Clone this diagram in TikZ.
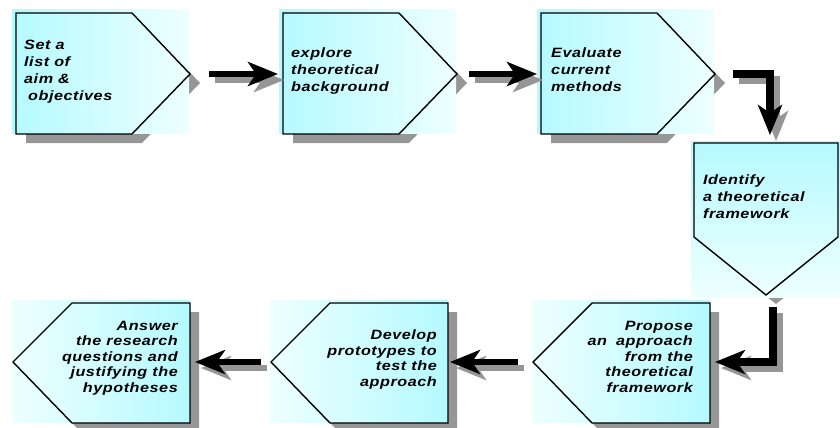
\documentclass[tikz,border=0pt]{standalone}
\usepackage{fontspec}
\usepackage{xcolor}
\usepackage{tikz}
\usetikzlibrary{arrows.meta}
\newfontfamily\boxfont{Liberation Sans}[FakeStretch=1.2, LetterSpace=4]
\definecolor{boxcyan}{RGB}{180,250,255}
\definecolor{boxwhite}{RGB}{238,255,255}
\definecolor{shadowgray}{RGB}{150,150,150}
\tikzset{
  boxline/.style={draw=black, line width=1.4pt},
  flowarrow/.style={line width=6pt, -{Stealth[length=30pt, width=24pt, inset=8pt]}},
  arrowshadow/.style={flowarrow, draw=shadowgray, transform canvas={xshift=6pt, yshift=-6pt}},
  boxtext/.style={font=\boxfont\bfseries\itshape\fontsize{13.5}{17}\selectfont, inner sep=0pt},
  lowtext/.style={boxtext, font=\boxfont\bfseries\itshape\fontsize{13.5}{15.5}\selectfont, align=right, anchor=north east}
}
\begin{document}
\begin{tikzpicture}[x=1pt, y=-1pt]
\useasboundingbox (0,0) rectangle (840,428);
% top row
\foreach \x/\n in {16/one, 283/two, 541/three}{
  \fill[shadowgray] (\x+10,22) -- (\x+126,22) -- (\x+184,83) -- (\x+126,143) -- (\x+10,143) -- cycle;
  \shade[left color=boxcyan, right color=boxwhite] (\x-4,10) rectangle (\x+173,133);
  \draw[boxline] (\x,13) -- (\x+116,13) -- (\x+174,74) -- (\x+116,134) -- (\x,134) -- cycle;
  \coordinate (\n-in) at (\x,74);
  \coordinate (\n-out) at (\x+174,74);
}
% turning box
\fill[shadowgray] (704,152) -- (848,152) -- (848,246) -- (776,304) -- (704,246) -- cycle;
\shade[top color=boxcyan, bottom color=boxwhite] (691,141) rectangle (840,297);
\draw[boxline] (694,143) -- (838,143) -- (838,237) -- (766,295) -- (694,237) -- cycle;
\coordinate (four-in) at (770,143);
\coordinate (four-out) at (773,295);
% bottom row
\foreach \x/\n in {190/seven, 448/six, 710/five}{
  \fill[shadowgray] (\x+9,312) -- (\x+9,432) -- (\x-109,432) -- (\x-168,372) -- (\x-109,312) -- cycle;
  \shade[left color=boxwhite, right color=boxcyan] (\x-178,300) rectangle (\x,422);
  \draw[boxline] (\x,303) -- (\x,423) -- (\x-118,423) -- (\x-177,362) -- (\x-118,303) -- cycle;
  \coordinate (\n-in) at (\x,362);
  \coordinate (\n-out) at (\x-177,362);
}

\node[boxtext, align=left, anchor=north west] (aims) at (24,40) {Set a\\list of\\aim \&\\\hspace*{4pt}objectives};
\node[boxtext, align=left, anchor=north west] (explore) at (291,48) {explore\\theoretical\\background};
\node[boxtext, align=left, anchor=north west] (evaluate) at (551,48) {Evaluate\\current\\methods};
\node[boxtext, align=left, anchor=north west] (identify) at (703,175) {Identify\\a theoretical\\framework};
\node[lowtext] (propose) at (693,321) {Propose\\an\hspace*{4pt} approach\\from the\\theoretical\\framework};
\node[lowtext] (develop) at (437,330) {Develop\\prototypes to\\test the\\approach};
\node[lowtext] (answer) at (178,321) {Answer\\the research\\questions and\\justifying the\\hypotheses};

% arrows
\draw[arrowshadow, shorten <=19pt, shorten >=5pt] (one-out) -- (two-in);
\draw[flowarrow, shorten <=19pt, shorten >=5pt] (one-out) -- (two-in);
\draw[arrowshadow, shorten <=12pt, shorten >=4pt] (two-out) -- (three-in);
\draw[flowarrow, shorten <=12pt, shorten >=4pt] (two-out) -- (three-in);
\draw[arrowshadow, line width=8pt, shorten <=18pt, shorten >=8pt] (three-out) -| (four-in);
\draw[flowarrow, line width=8pt, shorten <=18pt, shorten >=8pt] (three-out) -| (four-in);
\draw[arrowshadow, line width=8pt, shorten <=12pt, shorten >=5pt] (four-out) |- (five-in);
\draw[flowarrow, line width=8pt, shorten <=12pt, shorten >=5pt] (four-out) |- (five-in);
\draw[arrowshadow, shorten <=15pt, shorten >=2pt] (five-out) -- (six-in);
\draw[flowarrow, shorten <=15pt, shorten >=2pt] (five-out) -- (six-in);
\draw[arrowshadow, shorten <=10pt, shorten >=5pt] (six-out) -- (seven-in);
\draw[flowarrow, shorten <=10pt, shorten >=5pt] (six-out) -- (seven-in);
\end{tikzpicture}
\end{document}
